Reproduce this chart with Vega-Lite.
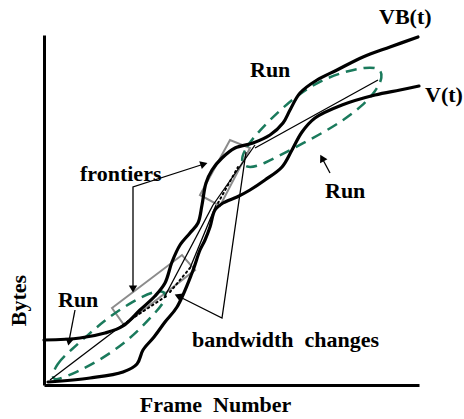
{
  "$schema": "https://vega.github.io/schema/vega-lite/v6.json",
  "width": 375,
  "height": 350,
  "autosize": "none",
  "padding": {"left": 44, "top": 35, "right": 45, "bottom": 34},
  "background": "white",
  "config": {"view": {"stroke": null}},
  "datasets": {
    "paths": [
      {"path": "VB", "seq": 1, "x": 0, "y": 45}, {"path": "VB", "seq": 2, "x": 36, "y": 47}, {"path": "VB", "seq": 3, "x": 61, "y": 52}, {"path": "VB", "seq": 4, "x": 79, "y": 59}, {"path": "VB", "seq": 5, "x": 96, "y": 75}, {"path": "VB", "seq": 6, "x": 111, "y": 89}, {"path": "VB", "seq": 7, "x": 121, "y": 102}, {"path": "VB", "seq": 8, "x": 128, "y": 123}, {"path": "VB", "seq": 9, "x": 136, "y": 140}, {"path": "VB", "seq": 10, "x": 146, "y": 152}, {"path": "VB", "seq": 11, "x": 154, "y": 162}, {"path": "VB", "seq": 12, "x": 158, "y": 180}, {"path": "VB", "seq": 13, "x": 162, "y": 202}, {"path": "VB", "seq": 14, "x": 168, "y": 215}, {"path": "VB", "seq": 15, "x": 178, "y": 227}, {"path": "VB", "seq": 16, "x": 191, "y": 237}, {"path": "VB", "seq": 17, "x": 209, "y": 242}, {"path": "VB", "seq": 18, "x": 226, "y": 250}, {"path": "VB", "seq": 19, "x": 239, "y": 262}, {"path": "VB", "seq": 20, "x": 246, "y": 275}, {"path": "VB", "seq": 21, "x": 256, "y": 292}, {"path": "VB", "seq": 22, "x": 273, "y": 305}, {"path": "VB", "seq": 23, "x": 293, "y": 315}, {"path": "VB", "seq": 24, "x": 319, "y": 328}, {"path": "VB", "seq": 25, "x": 346, "y": 338}, {"path": "VB", "seq": 26, "x": 374, "y": 348},
      {"path": "V", "seq": 1, "x": 4, "y": 3}, {"path": "V", "seq": 2, "x": 46, "y": 7}, {"path": "V", "seq": 3, "x": 79, "y": 13}, {"path": "V", "seq": 4, "x": 93, "y": 21}, {"path": "V", "seq": 5, "x": 99, "y": 35}, {"path": "V", "seq": 6, "x": 110, "y": 48}, {"path": "V", "seq": 7, "x": 121, "y": 63}, {"path": "V", "seq": 8, "x": 133, "y": 78}, {"path": "V", "seq": 9, "x": 148, "y": 112}, {"path": "V", "seq": 10, "x": 156, "y": 135}, {"path": "V", "seq": 11, "x": 161, "y": 145}, {"path": "V", "seq": 12, "x": 166, "y": 158}, {"path": "V", "seq": 13, "x": 171, "y": 175}, {"path": "V", "seq": 14, "x": 179, "y": 182}, {"path": "V", "seq": 15, "x": 193, "y": 188}, {"path": "V", "seq": 16, "x": 206, "y": 195}, {"path": "V", "seq": 17, "x": 221, "y": 205}, {"path": "V", "seq": 18, "x": 238, "y": 218}, {"path": "V", "seq": 19, "x": 248, "y": 235}, {"path": "V", "seq": 20, "x": 258, "y": 253}, {"path": "V", "seq": 21, "x": 271, "y": 267}, {"path": "V", "seq": 22, "x": 298, "y": 280}, {"path": "V", "seq": 23, "x": 331, "y": 290}, {"path": "V", "seq": 24, "x": 356, "y": 295}, {"path": "V", "seq": 25, "x": 375, "y": 299},
      {"path": "E1", "seq": 1, "x": 7, "y": 6}, {"path": "E1", "seq": 2, "x": 12, "y": 21}, {"path": "E1", "seq": 3, "x": 27, "y": 35}, {"path": "E1", "seq": 4, "x": 46, "y": 52}, {"path": "E1", "seq": 5, "x": 65, "y": 68}, {"path": "E1", "seq": 6, "x": 89, "y": 84}, {"path": "E1", "seq": 7, "x": 112, "y": 95}, {"path": "E1", "seq": 8, "x": 123, "y": 93}, {"path": "E1", "seq": 9, "x": 120, "y": 82}, {"path": "E1", "seq": 10, "x": 109, "y": 70}, {"path": "E1", "seq": 11, "x": 95, "y": 55}, {"path": "E1", "seq": 12, "x": 78, "y": 40}, {"path": "E1", "seq": 13, "x": 56, "y": 25}, {"path": "E1", "seq": 14, "x": 33, "y": 13}, {"path": "E1", "seq": 15, "x": 14, "y": 5},
      {"path": "E2", "seq": 1, "x": 196, "y": 224}, {"path": "E2", "seq": 2, "x": 202, "y": 238}, {"path": "E2", "seq": 3, "x": 215, "y": 254}, {"path": "E2", "seq": 4, "x": 235, "y": 274}, {"path": "E2", "seq": 5, "x": 255, "y": 291}, {"path": "E2", "seq": 6, "x": 276, "y": 304}, {"path": "E2", "seq": 7, "x": 299, "y": 313}, {"path": "E2", "seq": 8, "x": 322, "y": 318}, {"path": "E2", "seq": 9, "x": 336, "y": 317}, {"path": "E2", "seq": 10, "x": 339, "y": 308}, {"path": "E2", "seq": 11, "x": 332, "y": 294}, {"path": "E2", "seq": 12, "x": 318, "y": 279}, {"path": "E2", "seq": 13, "x": 300, "y": 265}, {"path": "E2", "seq": 14, "x": 275, "y": 250}, {"path": "E2", "seq": 15, "x": 246, "y": 235}, {"path": "E2", "seq": 16, "x": 220, "y": 221}, {"path": "E2", "seq": 17, "x": 203, "y": 216},
      {"path": "R1", "seq": 1, "x": 68, "y": 77}, {"path": "R1", "seq": 2, "x": 138, "y": 130}, {"path": "R1", "seq": 3, "x": 151, "y": 115}, {"path": "R1", "seq": 4, "x": 80, "y": 60},
      {"path": "R2", "seq": 1, "x": 156, "y": 190}, {"path": "R2", "seq": 2, "x": 186, "y": 245}, {"path": "R2", "seq": 3, "x": 206, "y": 237}, {"path": "R2", "seq": 4, "x": 176, "y": 179},
      {"path": "Sa", "seq": 1, "x": 6, "y": 5}, {"path": "Sa", "seq": 2, "x": 81, "y": 62},
      {"path": "Sb", "seq": 1, "x": 121, "y": 89}, {"path": "Sb", "seq": 2, "x": 169, "y": 180},
      {"path": "Sc", "seq": 1, "x": 146, "y": 117}, {"path": "Sc", "seq": 2, "x": 172, "y": 180},
      {"path": "Sd", "seq": 1, "x": 169, "y": 180}, {"path": "Sd", "seq": 2, "x": 211, "y": 240},
      {"path": "Se", "seq": 1, "x": 211, "y": 237}, {"path": "Se", "seq": 2, "x": 334, "y": 305},
      {"path": "Da", "seq": 1, "x": 83, "y": 63}, {"path": "Da", "seq": 2, "x": 124, "y": 90},
      {"path": "Db", "seq": 1, "x": 126, "y": 93}, {"path": "Db", "seq": 2, "x": 146, "y": 117},
      {"path": "Dc", "seq": 1, "x": 174, "y": 182}, {"path": "Dc", "seq": 2, "x": 194, "y": 218},
      {"path": "Cf", "seq": 1, "x": 160, "y": 221}, {"path": "Cf", "seq": 2, "x": 89, "y": 198}, {"path": "Cf", "seq": 3, "x": 89, "y": 97},
      {"path": "Cl", "seq": 1, "x": 31, "y": 75}, {"path": "Cl", "seq": 2, "x": 25, "y": 44},
      {"path": "Cr", "seq": 1, "x": 286, "y": 212}, {"path": "Cr", "seq": 2, "x": 278, "y": 227},
      {"path": "Cb", "seq": 1, "x": 134, "y": 89}, {"path": "Cb", "seq": 2, "x": 178, "y": 67}, {"path": "Cb", "seq": 3, "x": 202, "y": 233}
    ],
    "heads": [
      {"head": "frontier-up", "x": 160, "y": 221},
      {"head": "frontier-down", "x": 89, "y": 96},
      {"head": "run-left", "x": 25, "y": 43},
      {"head": "run-right", "x": 278, "y": 227},
      {"head": "bandwidth", "x": 134, "y": 89}
    ],
    "labels": [
      {"text": "VB(t)", "x": 335, "y": 361},
      {"text": "V(t)", "x": 381, "y": 283},
      {"text": "Run", "x": 206, "y": 308},
      {"text": "Run", "x": 281, "y": 187},
      {"text": "Run", "x": 14, "y": 78},
      {"text": "frontiers", "x": 36, "y": 204},
      {"text": "bandwidth\u00a0 changes", "x": 148, "y": 38}
    ]
  },
  "layer": [
    {
      "data": {"name": "paths"},
      "transform": [{"filter": {"field": "path", "oneOf": ["R1", "R2"]}}],
      "mark": {"type": "line", "interpolate": "linear-closed", "stroke": "#8c8c8c", "strokeWidth": 2},
      "encoding": {
        "x": {"field": "x", "type": "quantitative", "scale": {"domain": [0, 375], "nice": false, "zero": false},
          "axis": {"title": "Frame\u00a0 Number", "labels": false, "ticks": false, "grid": false, "domainColor": "black", "domainWidth": 3,
            "titleFont": "Liberation Serif", "titleFontWeight": "bold", "titleFontSize": 22, "titleColor": "black",
            "titleX": 171, "titleY": 26, "titleAlign": "center", "titleBaseline": "alphabetic"}},
        "y": {"field": "y", "type": "quantitative", "scale": {"domain": [0, 350], "nice": false, "zero": false},
          "axis": {"title": "Bytes", "labels": false, "ticks": false, "grid": false, "domainColor": "black", "domainWidth": 3,
            "titleFont": "Liberation Serif", "titleFontWeight": "bold", "titleFontSize": 22, "titleColor": "black",
            "titleX": -19, "titleY": 265, "titleAngle": -90, "titleAlign": "center", "titleBaseline": "alphabetic"}},
        "detail": {"field": "path"},
        "order": {"field": "seq", "type": "quantitative"}
      }
    },
    {
      "data": {"name": "paths"},
      "transform": [{"filter": {"field": "path", "oneOf": ["E1", "E2"]}}],
      "mark": {"type": "line", "interpolate": "basis-closed", "stroke": "#1a7a5c", "strokeWidth": 2.5, "strokeDash": [11, 7]},
      "encoding": {
        "x": {"field": "x", "type": "quantitative"},
        "y": {"field": "y", "type": "quantitative"},
        "detail": {"field": "path"},
        "order": {"field": "seq", "type": "quantitative"}
      }
    },
    {
      "data": {"name": "paths"},
      "transform": [{"filter": {"field": "path", "oneOf": ["Sa", "Sb", "Sc", "Sd", "Se", "Cf", "Cl", "Cr", "Cb"]}}],
      "mark": {"type": "line", "stroke": "black", "strokeWidth": 1.3},
      "encoding": {
        "x": {"field": "x", "type": "quantitative"},
        "y": {"field": "y", "type": "quantitative"},
        "detail": {"field": "path"},
        "order": {"field": "seq", "type": "quantitative"}
      }
    },
    {
      "data": {"name": "paths"},
      "transform": [{"filter": {"field": "path", "oneOf": ["Da", "Db", "Dc"]}}],
      "mark": {"type": "line", "stroke": "black", "strokeWidth": 2, "strokeDash": [1.5, 3.5], "strokeCap": "round"},
      "encoding": {
        "x": {"field": "x", "type": "quantitative"},
        "y": {"field": "y", "type": "quantitative"},
        "detail": {"field": "path"},
        "order": {"field": "seq", "type": "quantitative"}
      }
    },
    {
      "data": {"name": "paths"},
      "transform": [{"filter": {"field": "path", "oneOf": ["VB", "V"]}}],
      "mark": {"type": "line", "interpolate": "catmull-rom", "stroke": "black", "strokeWidth": 3.2, "strokeCap": "round"},
      "encoding": {
        "x": {"field": "x", "type": "quantitative"},
        "y": {"field": "y", "type": "quantitative"},
        "detail": {"field": "path"},
        "order": {"field": "seq", "type": "quantitative"}
      }
    },
    {
      "data": {"name": "heads"},
      "transform": [{"filter": {"field": "head", "equal": "frontier-up"}}],
      "mark": {"type": "point", "shape": "triangle-up", "filled": true, "color": "black", "size": 70, "opacity": 1, "angle": 72},
      "encoding": {"x": {"field": "x", "type": "quantitative"}, "y": {"field": "y", "type": "quantitative"}}
    },
    {
      "data": {"name": "heads"},
      "transform": [{"filter": {"field": "head", "equal": "frontier-down"}}],
      "mark": {"type": "point", "shape": "triangle-up", "filled": true, "color": "black", "size": 70, "opacity": 1, "angle": 180},
      "encoding": {"x": {"field": "x", "type": "quantitative"}, "y": {"field": "y", "type": "quantitative"}}
    },
    {
      "data": {"name": "heads"},
      "transform": [{"filter": {"field": "head", "equal": "run-left"}}],
      "mark": {"type": "point", "shape": "triangle-up", "filled": true, "color": "black", "size": 70, "opacity": 1, "angle": 191},
      "encoding": {"x": {"field": "x", "type": "quantitative"}, "y": {"field": "y", "type": "quantitative"}}
    },
    {
      "data": {"name": "heads"},
      "transform": [{"filter": {"field": "head", "equal": "run-right"}}],
      "mark": {"type": "point", "shape": "triangle-up", "filled": true, "color": "black", "size": 70, "opacity": 1, "angle": 331},
      "encoding": {"x": {"field": "x", "type": "quantitative"}, "y": {"field": "y", "type": "quantitative"}}
    },
    {
      "data": {"name": "heads"},
      "transform": [{"filter": {"field": "head", "equal": "bandwidth"}}],
      "mark": {"type": "point", "shape": "triangle-up", "filled": true, "color": "black", "size": 70, "opacity": 1, "angle": 293},
      "encoding": {"x": {"field": "x", "type": "quantitative"}, "y": {"field": "y", "type": "quantitative"}}
    },
    {
      "data": {"name": "labels"},
      "mark": {"type": "text", "font": "Liberation Serif", "fontWeight": "bold", "fontSize": 22, "color": "black", "align": "left", "baseline": "alphabetic"},
      "encoding": {
        "x": {"field": "x", "type": "quantitative"},
        "y": {"field": "y", "type": "quantitative"},
        "text": {"field": "text"}
      }
    }
  ]
}
